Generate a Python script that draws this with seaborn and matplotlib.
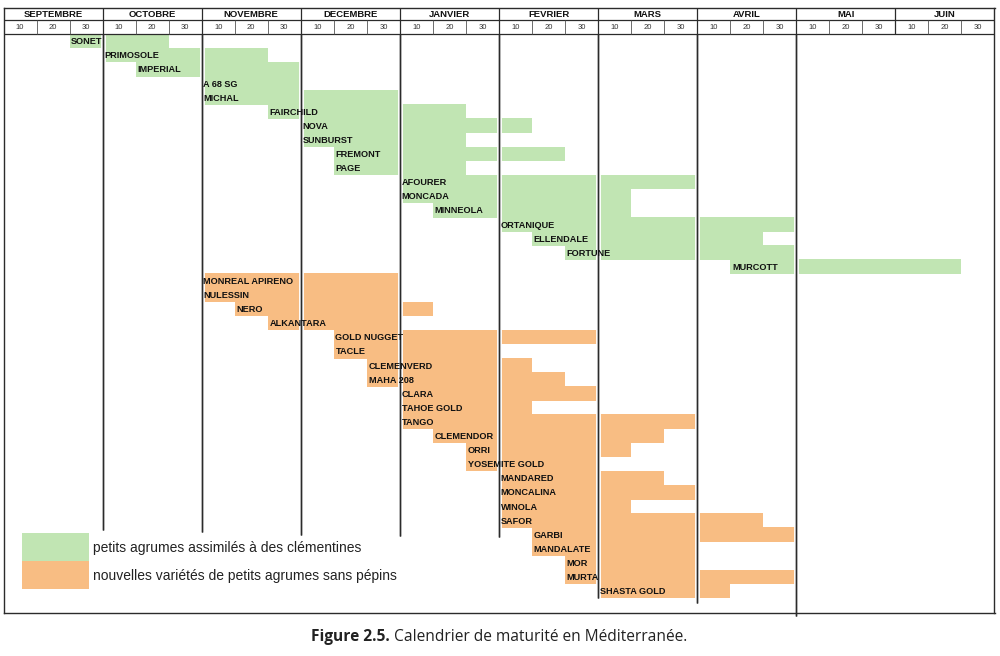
import matplotlib
matplotlib.use("Agg")
import matplotlib.pyplot as plt
import matplotlib.patheffects as pe
from matplotlib.patches import Rectangle
import seaborn as sns

# ---------------- data (decade index: 0 = 1-10 septembre ... 29 = 21-30 juin)
months = ["SEPTEMBRE", "OCTOBRE", "NOVEMBRE", "DECEMBRE", "JANVIER",
          "FEVRIER", "MARS", "AVRIL", "MAI", "JUIN"]
decade_labels = ["10", "20", "30"]

green_names = ["SONET", "PRIMOSOLE", "IMPERIAL", "A 68 SG", "MICHAL", "FAIRCHILD",
               "NOVA", "SUNBURST", "FREMONT", "PAGE", "AFOURER", "MONCADA",
               "MINNEOLA", "ORTANIQUE", "ELLENDALE", "FORTUNE", "MURCOTT"]
green_start = [2, 3, 4, 6, 6, 8, 9, 9, 10, 10, 12, 12, 13, 15, 16, 17, 22]
green_end = [5, 8, 9, 9, 12, 14, 16, 14, 17, 14, 21, 19, 19, 24, 23, 24, 29]

orange_names = ["MONREAL APIRENO", "NULESSIN", "NERO", "ALKANTARA", "GOLD NUGGET",
                "TACLE", "CLEMENVERD", "MAHA 208", "CLARA", "TAHOE GOLD", "TANGO",
                "CLEMENDOR", "ORRI", "YOSEMITE GOLD", "MANDARED", "MONCALINA",
                "WINOLA", "SAFOR", "GARBI", "MANDALATE", "MOR", "MURTA", "SHASTA GOLD"]
orange_start = [6, 6, 7, 8, 10, 10, 11, 11, 12, 12, 12, 13, 14, 14, 15, 15, 15, 15,
                16, 16, 17, 17, 18]
orange_end = [12, 12, 13, 12, 18, 15, 16, 17, 18, 16, 21, 20, 19, 18, 20, 21, 19, 23,
              24, 21, 21, 24, 22]

# depth (in rows) reached by each month separator line in the body
sep_months = [3, 6, 9, 12, 15, 18, 21, 24]
sep_depth = [35.2, 35.3, 35.5, 35.6, 35.7, 40.0, 40.35, 41.25]

legend_labels = ["petits agrumes assimilés à des clémentines",
                 "nouvelles variétés de petits agrumes sans pépins"]
caption_bold = "Figure 2.5."
caption_text = " Calendrier de maturité en Méditerranée."

GREEN = "#c1e5b3"
ORANGE = "#f8bd83"
LINE = "#2b2b2b"

# ---------------- style
sns.set_theme(style="white")
plt.rcParams["font.family"] = ["Liberation Sans", "DejaVu Sans"]

W, H = 1000, 656
fig = plt.figure(figsize=(W / 100, H / 100), dpi=100)
fig.patch.set_facecolor("white")

x0_px, x1_px = 3.5, 994.5
top_px, bot_px = 8.0, 613.0
row_px = 14.1
body_top_px = 34.0
y_top = (top_px - body_top_px) / row_px
y_bot = (bot_px - body_top_px) / row_px
y_mid = (20.0 - body_top_px) / row_px

ax = fig.add_axes([x0_px / W, 1 - bot_px / H, (x1_px - x0_px) / W, (bot_px - top_px) / H])
ax.set_xlim(0, 30)
ax.set_ylim(y_bot, y_top)
ax.set_xticks([])
ax.set_yticks([])
for s in ax.spines.values():
    s.set_color(LINE)
    s.set_linewidth(1.0)
ax.set_facecolor("white")

# ---------------- bars
names = green_names + orange_names
starts = green_start + orange_start
ends = green_end + orange_end
colors = [GREEN] * len(green_names) + [ORANGE] * len(orange_names)
rows = list(range(len(names)))

ax.barh([r + 0.5 for r in rows], [e - s for s, e in zip(starts, ends)], left=starts,
        height=1.03, color=colors, edgecolor="none", linewidth=0, zorder=1)

# month separators in body
ax.vlines(sep_months, 0, sep_depth, colors=LINE, linewidth=1.0, zorder=2,
          clip_on=False,
          path_effects=[pe.withStroke(linewidth=3.5, foreground="white"), pe.Normal()])

for r, s, n in zip(rows, starts, names):
    ax.text(s + 0.05, r + 0.55, n, ha="left", va="center", fontsize=6.6,
            fontweight="bold", color="#111111", zorder=3)

# ---------------- header
ax.hlines([y_mid, 0], 0, 30, colors=LINE, linewidth=0.9, zorder=4)
ax.vlines([3 * i for i in range(1, 10)], y_top, 0, colors=LINE, linewidth=0.9, zorder=4)
dec_lines = [d for d in range(1, 30) if d % 3 != 0]
ax.vlines(dec_lines, y_mid, 0, colors="#555555", linewidth=0.6, zorder=4)
for i, m in enumerate(months):
    ax.text(3 * i + 1.5, (y_top + y_mid) / 2 + 0.05, m, ha="center", va="center",
            fontsize=6.8, fontweight="bold", color="#111111", zorder=5)
    for j, d in enumerate(decade_labels):
        ax.text(3 * i + j + 0.5, y_mid / 2 + 0.03, d, ha="center", va="center",
                fontsize=5.5, color="#333333", zorder=5)

# ---------------- legend (two contiguous colour boxes with their texts)
leg_x, leg_y, leg_w, leg_h = 22, 533, 67, 28
for k, (c, lab) in enumerate(zip([GREEN, ORANGE], legend_labels)):
    y0 = leg_y + k * leg_h
    fig.patches.append(Rectangle(((leg_x) / W, 1 - (y0 + leg_h) / H), leg_w / W, leg_h / H,
                                 transform=fig.transFigure, facecolor=c,
                                 edgecolor="none", zorder=6))
    fig.text((leg_x + leg_w + 4) / W, 1 - (y0 + leg_h / 2 + 1) / H, lab,
             ha="left", va="center", fontsize=10, color="#222222", zorder=7)

# ---------------- caption
t1 = fig.text(311 / W, 1 - 637 / H, caption_bold, ha="left", va="center",
              fontsize=11.2, fontweight="bold", family=["Open Sans", "DejaVu Sans"],
              color="#222222")
fig.canvas.draw()
bb = t1.get_window_extent()
fig.text(bb.x1 / W, 1 - 637 / H, caption_text, ha="left", va="center",
         fontsize=11.2, family=["Open Sans", "DejaVu Sans"], color="#222222")

fig.savefig("out.png", dpi=100)
